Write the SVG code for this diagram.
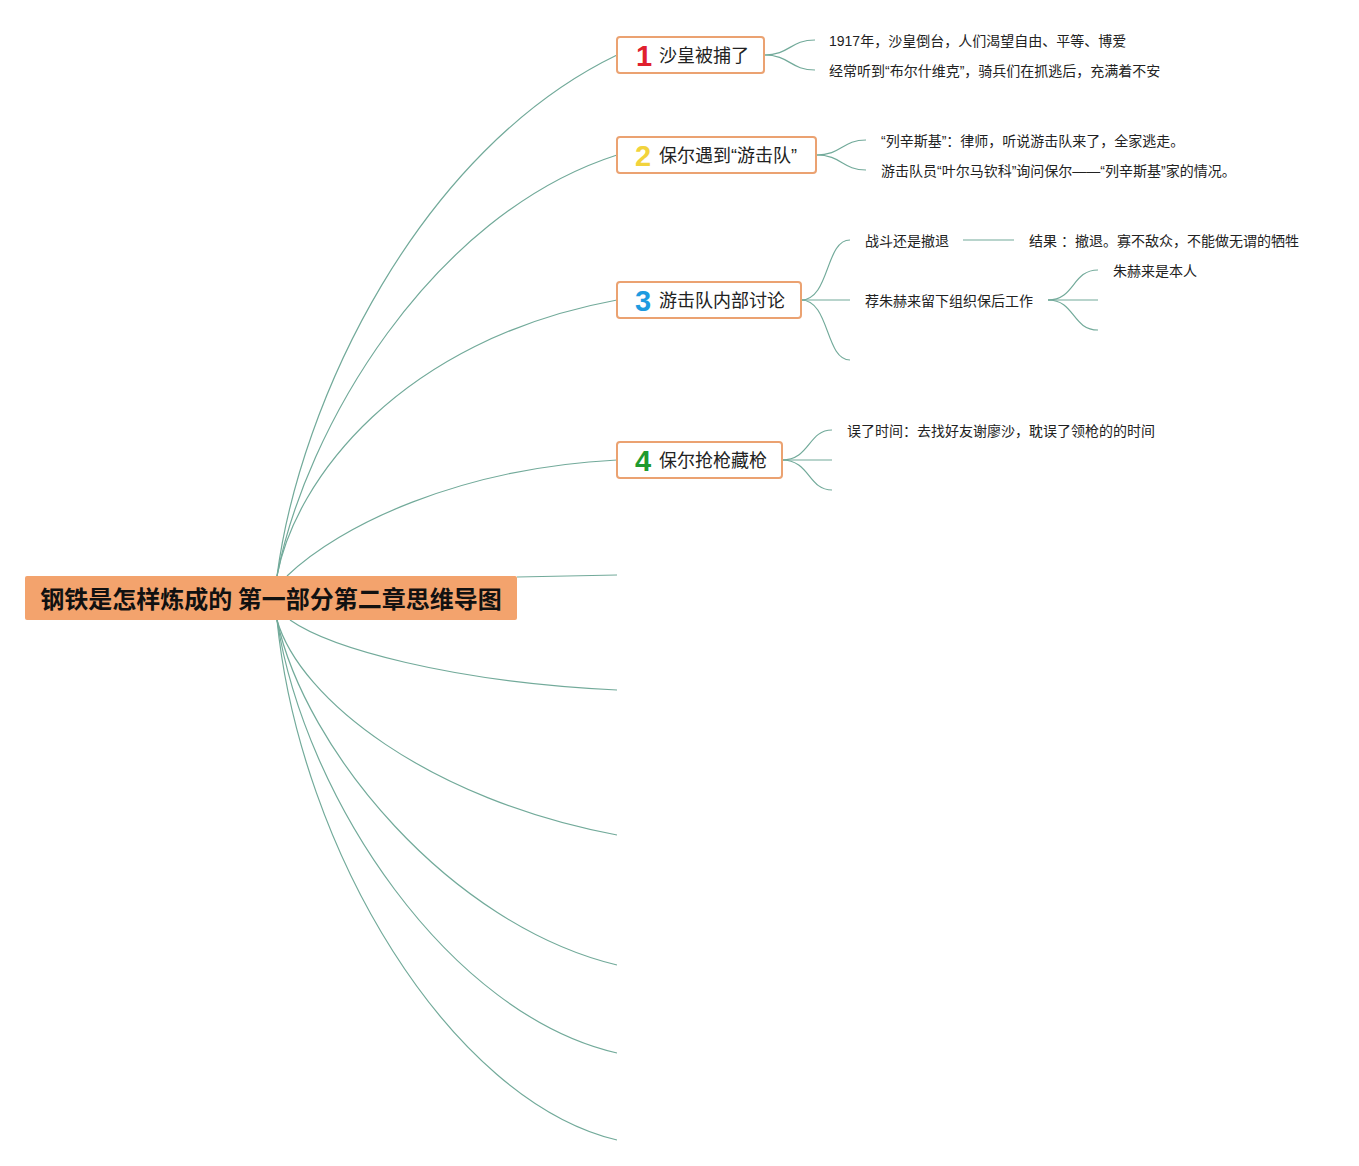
<svg xmlns="http://www.w3.org/2000/svg" width="1359" height="1166" viewBox="0 0 1359 1166">
<style>
.ln{fill:none;stroke:#72AA9A;stroke-width:1.2}
.box{fill:#fff;stroke:#EBA271;stroke-width:2}
.t1{font-family:"Liberation Sans","Noto Sans CJK SC",sans-serif;font-size:18px;fill:#222}
.num{font-family:"Liberation Sans",Arial,sans-serif;font-size:29px;font-weight:bold}
.t2{font-family:"Liberation Sans","Noto Sans CJK SC",sans-serif;font-size:14px;fill:#222}
.root{font-family:"Noto Sans CJK SC","Noto Sans",sans-serif;font-size:24px;font-weight:bold;fill:#111}
</style>
<rect width="1359" height="1166" fill="#fff"/>
<g id="connectors">
<path class="ln" d="M277,576 C300,400 420,150 617,55"/>
<path class="ln" d="M277,576 C305,430 430,215 617,155"/>
<path class="ln" d="M277,576 C295,480 400,340 617,300"/>
<path class="ln" d="M287,576 C340,525 460,468 617,460"/>
<path class="ln" d="M517,577 L617,575"/>
<path class="ln" d="M290,620 C330,648 450,682 617,690"/>
<path class="ln" d="M277,620 C300,700 430,800 617,835"/>
<path class="ln" d="M277,620 C305,750 450,925 617,965"/>
<path class="ln" d="M277,620 C305,800 450,1015 617,1053"/>
<path class="ln" d="M277,620 C300,850 450,1100 617,1140"/>
<path class="ln" d="M764,55 C790,55 790,40 815,40"/>
<path class="ln" d="M764,55 C790,55 790,70 815,70"/>
<path class="ln" d="M816,155 C842,155 842,140 866,140"/>
<path class="ln" d="M816,155 C842,155 842,170 866,170"/>
<path class="ln" d="M801,300 C830,300 825,240 850,240"/>
<path class="ln" d="M801,300 L850,300"/>
<path class="ln" d="M801,300 C830,300 825,360 850,360"/>
<path class="ln" d="M963,240 L1014,240"/>
<path class="ln" d="M1048,300 C1075,300 1072,270 1098,270"/>
<path class="ln" d="M1048,300 L1098,300"/>
<path class="ln" d="M1048,300 C1075,300 1072,330 1098,330"/>
<path class="ln" d="M782,460 C810,460 808,430 832,430"/>
<path class="ln" d="M782,460 L832,460"/>
<path class="ln" d="M782,460 C810,460 808,490 832,490"/>
</g>
<g id="root">
<rect x="25" y="576" width="492" height="44" rx="2" fill="#F3A36D"/>
<text class="root" x="271" y="608" text-anchor="middle">钢铁是怎样炼成的 第一部分第二章思维导图</text>
</g>
<g id="n1">
<rect class="box" x="617" y="37" width="147" height="36" rx="3"/>
<text class="num" x="636" y="66" fill="#E0202E">1</text>
<text class="t1" x="659" y="62">沙皇被捕了</text>
</g>
<g id="n2">
<rect class="box" x="617" y="137" width="199" height="36" rx="3"/>
<text class="num" x="635" y="166" fill="#F2D33C">2</text>
<text class="t1" x="659" y="162">保尔遇到“游击队”</text>
</g>
<g id="n3">
<rect class="box" x="617" y="282" width="184" height="36" rx="3"/>
<text class="num" x="635" y="311" fill="#1E9BE0">3</text>
<text class="t1" x="659" y="307">游击队内部讨论</text>
</g>
<g id="n4">
<rect class="box" x="617" y="442" width="165" height="36" rx="3"/>
<text class="num" x="635" y="471" fill="#1F9A2E">4</text>
<text class="t1" x="659" y="467">保尔抢枪藏枪</text>
</g>
<g id="leaves">
<text class="t2" x="829" y="46">1917年，沙皇倒台，人们渴望自由、平等、博爱</text>
<text class="t2" x="829" y="76">经常听到“布尔什维克”，骑兵们在抓逃后，充满着不安</text>
<text class="t2" x="881" y="146">“列辛斯基”：律师，听说游击队来了，全家逃走。</text>
<text class="t2" x="881" y="176">游击队员“叶尔马钦科”询问保尔——“列辛斯基”家的情况。</text>
<text class="t2" x="865" y="246">战斗还是撤退</text>
<text class="t2" x="1029" y="246">结果 ：撤退。寡不敌众，不能做无谓的牺牲</text>
<text class="t2" x="865" y="306">荐朱赫来留下组织保后工作</text>
<text class="t2" x="1113" y="276">朱赫来是本人</text>
<text class="t2" x="847" y="436">误了时间：去找好友谢廖沙，耽误了领枪的的时间</text>
</g>
</svg>
